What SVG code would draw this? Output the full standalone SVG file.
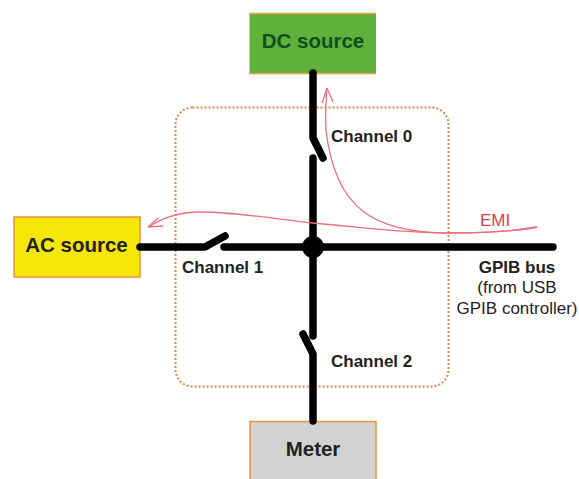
<svg xmlns="http://www.w3.org/2000/svg" width="579" height="479" viewBox="0 0 579 479">
<style>
text{font-family:"Liberation Sans",Arial,sans-serif;fill:#222}
.l{font-size:17px;font-weight:bold}
.t{font-size:17px}
.n{font-size:20.500px;font-weight:bold}
.box{stroke:#e8943a;stroke-width:1.5}
.wire{fill:none;stroke:#000;stroke-width:7.5;stroke-linecap:round;stroke-linejoin:round}
.emi{fill:none;stroke:#e8707c;stroke-width:1.3}
</style>
<rect width="579" height="479" fill="#fff"/>
<g id="boundary"><rect x="175.500" y="107.500" width="273" height="279" rx="17" fill="none" stroke="#d98a4a" stroke-width="2" stroke-dasharray="2 2"/></g>
<g id="dc-source"><rect x="249.500" y="13" width="126.500" height="60.500" fill="#5fb13c"/><path d="M249.500 13.500H376M249.500 73.500H376" stroke="#e8a040" stroke-width="1.5" fill="none"/><text class="n" x="313" y="48" text-anchor="middle" style="fill:#0f4f1c">DC source</text></g>
<g id="ac-source"><rect class="box" x="14" y="217" width="126" height="60" fill="#f7e708"/><text class="n" x="76.500" y="252" text-anchor="middle">AC source</text></g>
<g id="meter"><rect class="box" x="250" y="421.500" width="126" height="70" fill="#d2d2d2"/><text class="n" x="313" y="456" text-anchor="middle">Meter</text></g>
<g id="connectors">
<path class="wire" d="M313 73V138L323 158"/>
<path class="wire" d="M313 158V336"/>
<path class="wire" d="M140 247H205L225 236"/>
<path class="wire" d="M224 247H553"/>
<path class="wire" d="M303 334L313 354V421"/>
<circle cx="313" cy="247" r="11"/>
<path class="emi" d="M537 227C510 232 480 233 450 233C400 233 360 227 313 223C275 219 235 212 200 212C175 212 160 220 148 227"/>
<path class="emi" d="M148 227L158 218M148 227L163 226"/>
<path class="emi" d="M537 227C510 232 480 233 450 233C375 233 335 210 326 130C325 115 326 100 327 88"/>
<path class="emi" d="M327 88L322 103M327 88L333 102"/>
</g>
<g id="labels">
<text class="l" x="331" y="142">Channel 0</text>
<text class="l" x="182" y="273">Channel 1</text>
<text class="l" x="331" y="367">Channel 2</text>
<text class="t" x="480" y="226" style="fill:#d8404c">EMI</text>
<text class="l" x="517" y="273" text-anchor="middle">GPIB bus</text>
<text class="t" x="517" y="293" text-anchor="middle">(from USB</text>
<text class="t" x="517" y="314" text-anchor="middle">GPIB controller)</text>
</g>
</svg>
